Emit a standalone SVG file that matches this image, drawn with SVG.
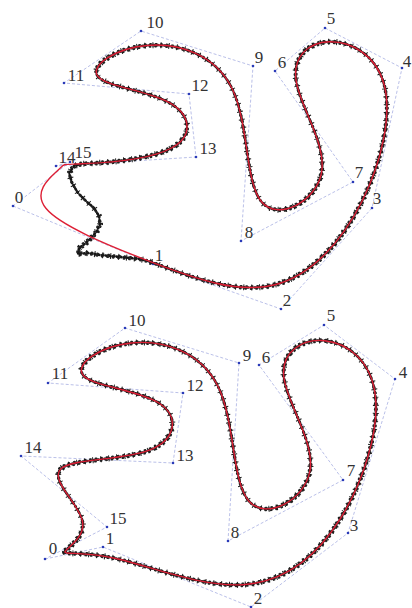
<svg xmlns="http://www.w3.org/2000/svg" width="412" height="608" viewBox="0 0 412 608">
<style>
.poly{fill:none;stroke:#8c96d8;stroke-width:0.8;stroke-dasharray:3 2;opacity:0.75}
.cp{fill:#2a3ab8}
.dots{fill:none;stroke:#151515;stroke-width:2.6;stroke-dasharray:1.1 2.6;stroke-linecap:round}
.dots2{fill:none;stroke:#222;stroke-width:2;stroke-dasharray:0.8 4.7;stroke-dashoffset:2;stroke-linecap:round}
.ticks{fill:none;stroke:#1a1a1a;stroke-width:6;stroke-dasharray:1 7}
.curve{fill:none;stroke:#dd1f35;stroke-width:1.4;stroke-linejoin:round}
.lbl{font-family:"Liberation Serif","Times New Roman",serif;font-size:17px;fill:#333;text-anchor:middle}
</style>
<defs>
<path id="topCurve" d="M45.9,208.3 C59.7,225.3 106.3,244.7 151,261.9 C195.7,279 238.3,294 274.8,284.7 C311.3,275.3 341.7,241.7 361.9,201.5 C382,161.3 392,114.7 384.2,84.7 C376.3,54.7 350.7,41.3 329.5,41.8 C308.3,42.3 291.7,56.7 296.4,82.4 C301,108 327,145 321.4,173.4 C315.7,201.7 278.3,221.3 261.7,202 C245,182.7 249,124.3 232.4,89.3 C215.7,54.3 178.3,42.7 146.8,45.5 C115.3,48.3 89.7,65.7 97.7,76.2 C105.7,86.7 147.3,90.3 169.3,102.7 C191.3,115 193.7,136 171.5,148 C149.3,160 102.7,163 81.7,163.8 C60.7,164.7 65.3,163.3 58.2,170 C51,176.7 32,191.3 45.9,208.3 Z"/>
<path id="topData" d="M151,261.9 C195.7,279 238.3,294 274.8,284.7 C311.3,275.3 341.7,241.7 361.9,201.5 C382,161.3 392,114.7 384.2,84.7 C376.3,54.7 350.7,41.3 329.5,41.8 C308.3,42.3 291.7,56.7 296.4,82.4 C301,108 327,145 321.4,173.4 C315.7,201.7 278.3,221.3 261.7,202 C245,182.7 249,124.3 232.4,89.3 C215.7,54.3 178.3,42.7 146.8,45.5 C115.3,48.3 89.7,65.7 97.7,76.2 C105.7,86.7 147.3,90.3 169.3,102.7 C191.3,115 193.7,136 171.5,148 C149.3,160 102.7,163 81.7,163.8 L74,166 L69,173 L72,183 L78,193 L87,202 L94,208 L99,216 L100,224 L97,231 L92,237 L86,243 L79,248 L78,254 L88,253 L100,255 L120,257 L140,259 L151,261.9"/>
<path id="botCurve" d="M65,551.7 C64.3,555 83.7,551 118,559 C152.3,567 201.7,587 242.5,584.7 C283.3,582.3 315.7,557.7 339.7,519.7 C363.7,481.7 379.3,430.3 375.3,395.7 C371.3,361 347.7,343 325,340.7 C302.3,338.3 280.7,351.7 283.9,377.5 C287,403.3 315,441.7 309.9,471 C304.7,500.3 266.3,520.7 249,501.2 C231.7,481.7 235.3,422.3 218.2,386.8 C201,351.3 163,339.7 131.2,343 C99.3,346.3 73.7,364.7 83.4,375.5 C93,386.3 138,389.7 158.9,403 C179.7,416.3 176.3,439.7 149.3,450.2 C122.3,460.7 71.7,458.3 60.7,469 C49.7,479.7 78.3,503.3 82.3,520.5 C86.3,537.7 65.7,548.3 65,551.7 Z"/>
</defs>

<g id="top-panel">
  <g id="top-control-polygon">
    <path class="poly" d="M13,206 L153,264 L281,309 L372,208 L402,68 L325,28 L275,71 L353,182 L241,241 L253,66 L141,31 L64,83 L189,94 L196,157 L56,166 L70,162 Z"/>
    <g class="cp">
      <circle cx="13" cy="206" r="1.3"/><circle cx="153" cy="264" r="1.3"/><circle cx="281" cy="309" r="1.3"/><circle cx="372" cy="208" r="1.3"/>
      <circle cx="402" cy="68" r="1.3"/><circle cx="325" cy="28" r="1.3"/><circle cx="275" cy="71" r="1.3"/><circle cx="353" cy="182" r="1.3"/>
      <circle cx="241" cy="241" r="1.3"/><circle cx="253" cy="66" r="1.3"/><circle cx="141" cy="31" r="1.3"/><circle cx="64" cy="83" r="1.3"/>
      <circle cx="189" cy="94" r="1.3"/><circle cx="196" cy="157" r="1.3"/><circle cx="56" cy="166" r="1.3"/><circle cx="70" cy="162" r="1.3"/>
    </g>
  </g>
  <g id="top-data">
    <use href="#topData" class="dots"/>
    <use href="#topData" class="dots2" transform="translate(1,1.4)"/>
    <use href="#topData" class="dots2" transform="translate(-1,-1.2)" style="stroke-dashoffset:4.5"/>
    <use href="#topData" class="ticks"/>
  </g>
  <use id="top-fit" href="#topCurve" class="curve"/>
  <g id="top-labels">
    <text class="lbl" x="19" y="203">0</text>
    <text class="lbl" x="159" y="261">1</text>
    <text class="lbl" x="287" y="306">2</text>
    <text class="lbl" x="377" y="204">3</text>
    <text class="lbl" x="407" y="67">4</text>
    <text class="lbl" x="331" y="24">5</text>
    <text class="lbl" x="282" y="68">6</text>
    <text class="lbl" x="359" y="178">7</text>
    <text class="lbl" x="249" y="238">8</text>
    <text class="lbl" x="259" y="63">9</text>
    <text class="lbl" x="155" y="28">10</text>
    <text class="lbl" x="76" y="81">11</text>
    <text class="lbl" x="200" y="91">12</text>
    <text class="lbl" x="208" y="154">13</text>
    <text class="lbl" x="67" y="163">14</text>
    <text class="lbl" x="83" y="158">15</text>
  </g>
</g>

<g id="bottom-panel">
  <g id="bottom-control-polygon">
    <path class="poly" d="M45,559 L103,547 L251,607 L348,533 L395,379 L324,325 L259,365 L343,480 L228,541 L239,363 L125,328 L48,383 L183,393 L173,463 L21,456 L107,527 Z"/>
    <g class="cp">
      <circle cx="45" cy="559" r="1.3"/><circle cx="103" cy="547" r="1.3"/><circle cx="251" cy="607" r="1.3"/><circle cx="348" cy="533" r="1.3"/>
      <circle cx="395" cy="379" r="1.3"/><circle cx="324" cy="325" r="1.3"/><circle cx="259" cy="365" r="1.3"/><circle cx="343" cy="480" r="1.3"/>
      <circle cx="228" cy="541" r="1.3"/><circle cx="239" cy="363" r="1.3"/><circle cx="125" cy="328" r="1.3"/><circle cx="48" cy="383" r="1.3"/>
      <circle cx="183" cy="393" r="1.3"/><circle cx="173" cy="463" r="1.3"/><circle cx="21" cy="456" r="1.3"/><circle cx="107" cy="527" r="1.3"/>
    </g>
  </g>
  <g id="bottom-data">
    <use href="#botCurve" class="dots"/>
    <use href="#botCurve" class="dots2" transform="translate(1,1.4)"/>
    <use href="#botCurve" class="dots2" transform="translate(-1,-1.2)" style="stroke-dashoffset:4.5"/>
    <use href="#botCurve" class="ticks"/>
  </g>
  <use id="bottom-fit" href="#botCurve" class="curve"/>
  <g id="bottom-labels">
    <text class="lbl" x="53" y="554">0</text>
    <text class="lbl" x="110" y="544">1</text>
    <text class="lbl" x="258" y="604">2</text>
    <text class="lbl" x="354" y="531">3</text>
    <text class="lbl" x="403" y="378">4</text>
    <text class="lbl" x="331" y="321">5</text>
    <text class="lbl" x="266" y="363">6</text>
    <text class="lbl" x="351" y="476">7</text>
    <text class="lbl" x="235" y="538">8</text>
    <text class="lbl" x="247" y="361">9</text>
    <text class="lbl" x="137" y="326">10</text>
    <text class="lbl" x="60" y="379">11</text>
    <text class="lbl" x="195" y="391">12</text>
    <text class="lbl" x="185" y="461">13</text>
    <text class="lbl" x="33" y="453">14</text>
    <text class="lbl" x="118" y="524">15</text>
  </g>
</g>
</svg>
